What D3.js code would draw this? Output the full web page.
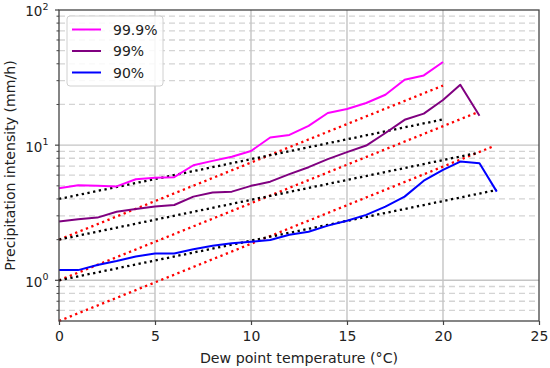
<!DOCTYPE html>
<html>
<head>
<meta charset="utf-8">
<script src="https://cdn.jsdelivr.net/npm/d3@7"></script>
<style>
  body { margin: 0; background: #fff; }
  text { font-family: "DejaVu Sans", sans-serif; fill: #222; }
</style>
</head>
<body>
<script>
// dew point temperature bins (°C)
var dewPoint = [0, 1, 2, 3, 4, 5, 6, 7, 8, 9, 10, 11, 12, 13, 14, 15, 16, 17, 18, 19, 20, 20.9, 21.9, 22.8];

// precipitation intensity percentiles (mm/h)
var p999 = [4.8, 5.05, 5.0, 4.95, 5.6, 5.75, 5.8, 7.1, 7.65, 8.2, 9.05, 11.4, 11.9, 13.9, 17.3, 18.5,
            20.5, 23.6, 30.5, 32.8, 41.2];
var p99  = [2.72, 2.83, 2.91, 3.22, 3.37, 3.51, 3.61, 4.16, 4.46, 4.53, 5.0, 5.37, 6.1, 6.87, 7.88, 8.88,
            9.93, 12.3, 15.4, 17.1, 21.6, 28.0, 16.5];
var p90  = [1.19, 1.19, 1.3, 1.39, 1.5, 1.58, 1.58, 1.7, 1.8, 1.88, 1.93, 1.99, 2.17, 2.29, 2.54, 2.76,
            3.05, 3.51, 4.16, 5.46, 6.56, 7.56, 7.36, 4.53];

var seriesNames = ["99.9%", "99%", "90%"];
var seriesColors = ["#ff00ff", "#800080", "#0000ff"];

// scaling reference lines, [start, end] as [temperature, intensity]
var ccLines = [
  [[0, 4], [20, 15.5]],
  [[0, 2], [21.7, 8.7]],
  [[0, 1], [22.8, 4.66]]
];
var cc2Lines = [
  [[0, 2], [20, 27.6]],
  [[0, 1], [21.8, 17.5]],
  [[0, 0.5], [22.7, 9.9]]
];

var xTicks = [0, 5, 10, 15, 20, 25];
var yMajor = [1, 10, 100];
var yMinor = [0.6, 0.7, 0.8, 0.9, 2, 3, 4, 5, 6, 7, 8, 9, 20, 30, 40, 50, 60, 70, 80, 90];

var svgWidth = 550;
var svgHeight = 368;
var plotL = 59, plotR = 539, plotT = 10, plotB = 321;

var x = d3.scaleLinear().domain([0, 25]).range([plotL, plotR]);
var y = d3.scaleLog().domain([0.5, 100]).range([plotB, plotT]);

var svg = d3.select("body")
            .append("svg")
            .attr("width", svgWidth)
            .attr("height", svgHeight);

// minor grid (dashed)
svg.append("g")
   .selectAll("line")
   .data(yMinor)
   .enter()
   .append("line")
   .attr("x1", plotL).attr("x2", plotR)
   .attr("y1", (d)=> y(d)).attr("y2", (d)=> y(d))
   .attr("stroke", "#d4d4d4")
   .attr("stroke-width", 1.3)
   .attr("stroke-dasharray", "6,4");

// major grid
svg.append("g")
   .selectAll("line")
   .data(yMajor.filter((d)=> d < 100))
   .enter()
   .append("line")
   .attr("x1", plotL).attr("x2", plotR)
   .attr("y1", (d)=> y(d)).attr("y2", (d)=> y(d))
   .attr("stroke", "#c4c4c4")
   .attr("stroke-width", 1.4);

svg.append("g")
   .selectAll("line")
   .data(xTicks.filter((d)=> d > 0 && d < 25))
   .enter()
   .append("line")
   .attr("x1", (d)=> x(d)).attr("x2", (d)=> x(d))
   .attr("y1", plotT).attr("y2", plotB)
   .attr("stroke", "#c4c4c4")
   .attr("stroke-width", 1.4);

var line = d3.line()
             .x((d)=> x(d[0]))
             .y((d)=> y(d[1]));

// dotted scaling lines
svg.append("g")
   .selectAll("path")
   .data(cc2Lines)
   .enter()
   .append("path")
   .attr("d", line)
   .attr("fill", "none")
   .attr("stroke", "#ff0000")
   .attr("stroke-width", 2.3)
   .attr("stroke-dasharray", "2.3,3.5");

svg.append("g")
   .selectAll("path")
   .data(ccLines)
   .enter()
   .append("path")
   .attr("d", line)
   .attr("fill", "none")
   .attr("stroke", "#000")
   .attr("stroke-width", 2.3)
   .attr("stroke-dasharray", "2.3,3.5");

// percentile curves
var series = [p999, p99, p90].map((vals)=> vals.map((v, i)=> [dewPoint[i], v]));

svg.append("g")
   .selectAll("path")
   .data(series)
   .enter()
   .append("path")
   .attr("d", line)
   .attr("fill", "none")
   .attr("stroke", (d, i)=> seriesColors[i])
   .attr("stroke-width", 2)
   .attr("stroke-linejoin", "round");

// frame
svg.append("rect")
   .attr("x", plotL).attr("y", plotT)
   .attr("width", plotR - plotL).attr("height", plotB - plotT)
   .attr("fill", "none")
   .attr("stroke", "#444")
   .attr("stroke-width", 1.3);

// x axis
var xAxis = d3.axisBottom(x)
              .tickValues(xTicks)
              .tickSize(4)
              .tickPadding(6.5)
              .tickFormat(d3.format("d"));

var gx = svg.append("g")
            .attr("transform", "translate(0," + plotB + ")")
            .call(xAxis);
gx.select(".domain").remove();
gx.selectAll("line").attr("stroke", "#444").attr("stroke-width", 1.2);
gx.selectAll("text").attr("font-size", "14px").attr("font-family", "DejaVu Sans").attr("fill", "#222");

// y axis ticks
svg.append("g")
   .selectAll("line")
   .data(yMajor)
   .enter()
   .append("line")
   .attr("x1", plotL - 4).attr("x2", plotL)
   .attr("y1", (d)=> y(d)).attr("y2", (d)=> y(d))
   .attr("stroke", "#444").attr("stroke-width", 1.2);

svg.append("g")
   .selectAll("line")
   .data(yMinor)
   .enter()
   .append("line")
   .attr("x1", plotL - 2.5).attr("x2", plotL)
   .attr("y1", (d)=> y(d)).attr("y2", (d)=> y(d))
   .attr("stroke", "#444").attr("stroke-width", 1);

var ylab = svg.append("g")
              .selectAll("text")
              .data(yMajor)
              .enter()
              .append("text")
              .attr("x", 48.5)
              .attr("y", (d)=> y(d) + 6.4)
              .attr("text-anchor", "end")
              .attr("font-size", "13.5px");
ylab.append("tspan").text("10");
ylab.append("tspan")
    .attr("dy", -6.5)
    .attr("font-size", "9.5px")
    .text((d)=> Math.round(Math.log10(d)));

// axis titles
svg.append("text")
   .attr("x", x(12.5))
   .attr("y", 363)
   .attr("text-anchor", "middle")
   .attr("font-size", "14.2px")
   .text("Dew point temperature (°C)");

svg.append("text")
   .attr("transform", "translate(15," + ((plotT + plotB) / 2) + ") rotate(-90)")
   .attr("text-anchor", "middle")
   .attr("font-size", "14.1px")
   .text("Precipitation intensity (mm/h)");

// legend
var legend = svg.append("g");
legend.append("rect")
      .attr("x", 67).attr("y", 16)
      .attr("width", 96).attr("height", 70)
      .attr("rx", 3)
      .attr("fill", "#fff").attr("fill-opacity", 0.85)
      .attr("stroke", "#d0d0d0");

var items = legend.selectAll("g.item")
                  .data(seriesNames)
                  .enter()
                  .append("g")
                  .attr("transform", (d, i)=> "translate(0," + (29.5 + i * 21.5) + ")");
items.append("line")
     .attr("x1", 72).attr("x2", 101)
     .attr("stroke", (d, i)=> seriesColors[i])
     .attr("stroke-width", 2);
items.append("text")
     .attr("x", 113)
     .attr("y", 5)
     .attr("font-size", "14px")
     .text((d)=> d);
</script>
</body>
</html>
